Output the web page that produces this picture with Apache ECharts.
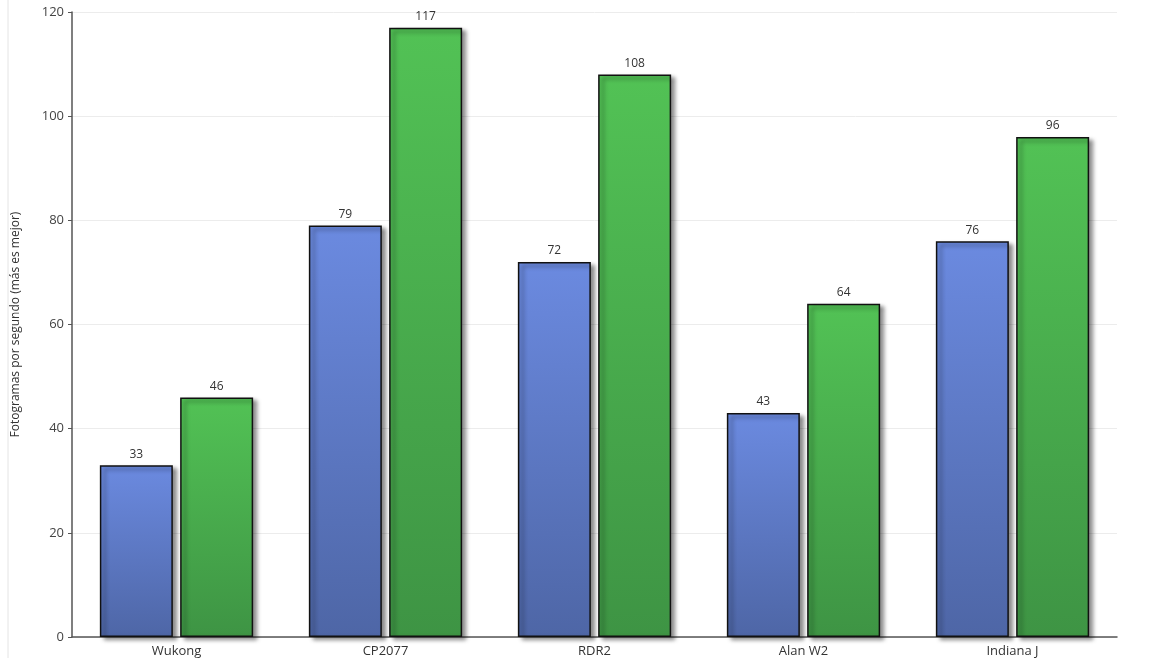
<!DOCTYPE html>
<html><head><meta charset="utf-8">
<script src="https://cdn.jsdelivr.net/npm/echarts@6/dist/echarts.min.js"></script>
<style>html,body{margin:0;padding:0;background:#fff}#c{width:1170px;height:658px}</style>
</head><body><div id="c"></div>
<script>
const categories = ["Wukong","CP2077","RDR2","Alan W2","Indiana J"];
const seriesA = [33,79,72,43,76];
const seriesB = [46,117,108,64,96];
const yTicks = {min:0,max:120,interval:20};
const chart = echarts.init(document.getElementById('c'));
function grad(t,b){return new echarts.graphic.LinearGradient(0,0,0,1,[{offset:0,color:t},{offset:1,color:b}]);}
const common = {type:'bar',barWidth:73,barGap:'10%',
  label:{show:true,position:'top',color:'#333',fontSize:12,fontFamily:'Open Sans',distance:5}};
chart.setOption({
  animation:false,
  graphic:[{type:'rect',shape:{x:8,y:-2,width:1200,height:700},style:{fill:'none',stroke:'#e4e4e4',lineWidth:1}}],
  grid:{left:72,right:53,top:12,bottom:14},
  xAxis:{type:'category',data:categories,axisTick:{show:false},
    axisLine:{lineStyle:{color:'#555',width:1.5}},
    axisLabel:{color:'#333',fontSize:13,fontFamily:'Open Sans',margin:8}},
  yAxis:{type:'value',min:yTicks.min,max:yTicks.max,interval:yTicks.interval,
    name:'Fotogramas por segundo (más es mejor)',nameLocation:'middle',nameGap:50,
    nameTextStyle:{color:'#333',fontSize:12,fontFamily:'Open Sans'},
    axisLine:{show:true,lineStyle:{color:'#555',width:1.5}},
    axisTick:{show:true,length:4,lineStyle:{color:'#555'}},
    axisLabel:{color:'#444',fontSize:13,fontFamily:'Open Sans'},
    splitLine:{lineStyle:{color:'#ececec'}}},
  series:[
    Object.assign({},common,{data:seriesA,itemStyle:{color:grad('#6b8ae0','#4e66a6'),borderColor:'#111',borderWidth:1.5,shadowColor:'rgba(0,0,0,0.45)',shadowBlur:4,shadowOffsetX:4,shadowOffsetY:3}}),
    Object.assign({},common,{data:seriesB,itemStyle:{color:grad('#52c255','#3e9444'),borderColor:'#111',borderWidth:1.5,shadowColor:'rgba(0,0,0,0.45)',shadowBlur:4,shadowOffsetX:4,shadowOffsetY:3}})
  ]
});
</script></body></html>
